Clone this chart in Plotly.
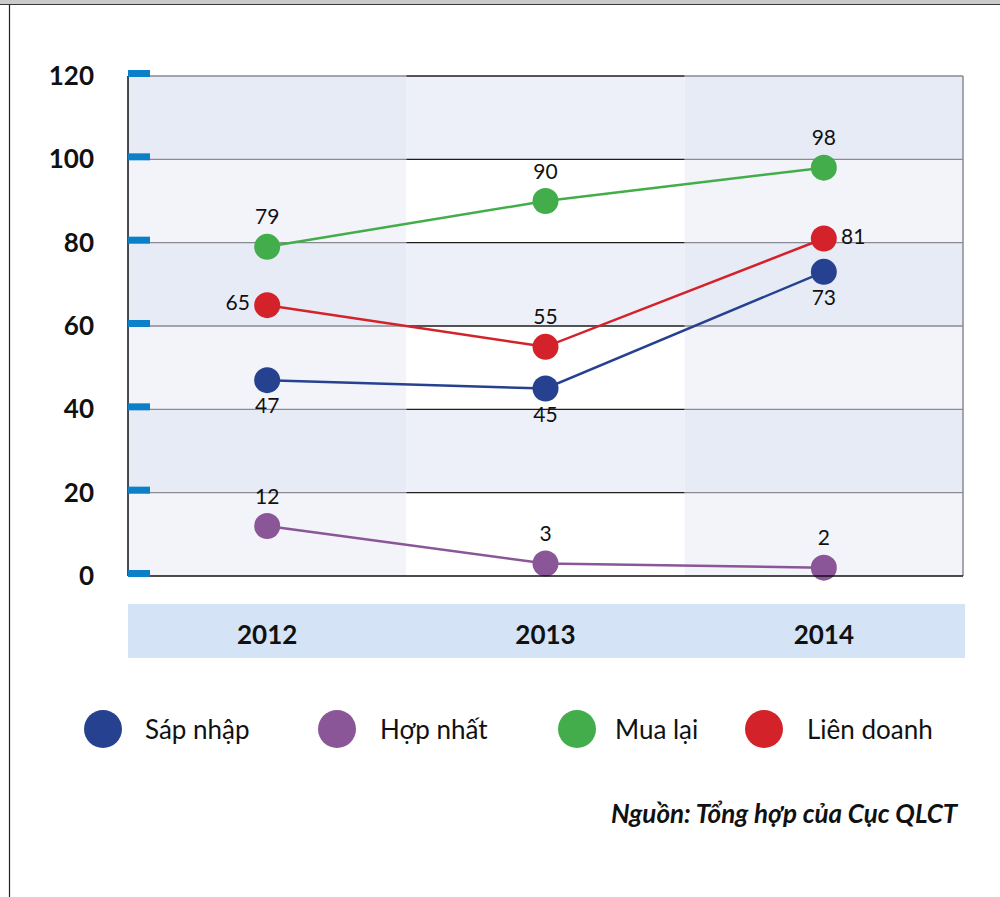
import plotly.graph_objects as go

# Data
years = ["2012", "2013", "2014"]
sap_nhap = [47, 45, 73]
hop_nhat = [12, 3, 2]
mua_lai = [79, 90, 98]
lien_doanh = [65, 55, 81]
y_ticks = [0, 20, 40, 60, 80, 100, 120]
series_names = ["Sáp nhập", "Hợp nhất", "Mua lại", "Liên doanh"]
source_text = "Nguồn: Tổng hợp của Cục QLCT"

# Styles
W, H = 1000, 897
L, R, T, B = 128, 37, 76, 321
PW, PH = W - L - R, H - T - B
FONT = "Lato"
Y_MAX = 120
colors = {"Sáp nhập": "#26418f", "Hợp nhất": "#8a5697", "Mua lại": "#42ad4a", "Liên doanh": "#d3222a"}
GRID_SIDE = "#8a8a92"
GRID_MID = "#1e1e1e"


def px_x(p):
    return (p - L) / PW


def px_y(p):
    return (H - B - p) / PH


fig = go.Figure()

series = [
    ("Sáp nhập", sap_nhap, ["bottom center"] * 3),
    ("Hợp nhất", hop_nhat, ["top center"] * 3),
    ("Mua lại", mua_lai, ["top center"] * 3),
    ("Liên doanh", lien_doanh, ["middle left", "top center", "middle right"]),
]
for name, vals, pos in series:
    fig.add_trace(go.Scatter(
        x=years, y=vals, name=name, mode="lines+markers+text",
        text=[str(v) for v in vals], textposition=pos,
        textfont=dict(family=FONT, size=21, color="#111"),
        line=dict(color=colors[name], width=2.5),
        marker=dict(color=colors[name], size=26),
        cliponaxis=False, showlegend=False,
    ))

shapes = []
# Alternating background cells
for ci in range(3):
    for ri in range(6):
        dark_row = (ri % 2 == 1)
        if ci == 1:
            fill = "#edf0f8" if dark_row else "#ffffff"
        else:
            fill = "#e7ebf6" if dark_row else "#f2f4fa"
        shapes.append(dict(type="rect", xref="x", yref="y", layer="below",
                           x0=ci - 0.5, x1=ci + 0.5,
                           y0=y_ticks[ri], y1=y_ticks[ri + 1],
                           fillcolor=fill, line=dict(width=0)))
# Horizontal grid lines, darker in the middle column
for v in y_ticks[1:-1]:
    for ci in range(3):
        shapes.append(dict(type="line", xref="x", yref="y", layer="below",
                           x0=ci - 0.5, x1=ci + 0.5, y0=v, y1=v,
                           line=dict(color=GRID_MID if ci == 1 else GRID_SIDE, width=1.3)))
# Top edge of the grid
for ci in range(3):
    shapes.append(dict(type="line", xref="x", yref="paper", layer="above",
                       x0=ci - 0.5, x1=ci + 0.5, y0=1, y1=1,
                       line=dict(color=GRID_MID if ci == 1 else GRID_SIDE, width=1.5)))
# Right border
shapes.append(dict(type="line", xref="paper", yref="paper", layer="above",
                   x0=1, x1=1, y0=0, y1=1, line=dict(color=GRID_SIDE, width=1.5)))
# Axis lines
shapes.append(dict(type="line", xref="paper", yref="paper", x0=0, x1=0, y0=0, y1=1,
                   line=dict(color="#111", width=1.5), layer="above"))
shapes.append(dict(type="line", xref="paper", yref="paper", x0=0, x1=1, y0=0, y1=0,
                   line=dict(color="#111", width=1.5), layer="above"))
# Blue tick bars on the value axis
for v in y_ticks:
    shapes.append(dict(type="rect", xref="paper", yref="paper", ysizemode="pixel",
                       yanchor=v / Y_MAX, y0=-1, y1=6, x0=0, x1=22 / PW,
                       fillcolor="#0b7fc7", line=dict(width=0), layer="above"))
# Category band
shapes.append(dict(type="rect", xref="paper", yref="paper", layer="below",
                   x0=0, x1=px_x(965), y0=px_y(658), y1=px_y(604),
                   fillcolor="#d4e3f5", line=dict(width=0)))
# Page frame
shapes.append(dict(type="rect", xref="paper", yref="paper",
                   x0=px_x(0), x1=px_x(W), y0=px_y(4), y1=px_y(0),
                   fillcolor="#cacaca", line=dict(width=0)))
shapes.append(dict(type="line", xref="paper", yref="paper",
                   x0=px_x(0), x1=px_x(W), y0=px_y(4.5), y1=px_y(4.5),
                   line=dict(color="#3a3a3a", width=1.2)))
shapes.append(dict(type="line", xref="paper", yref="paper",
                   x0=px_x(9.5), x1=px_x(9.5), y0=px_y(H), y1=px_y(4.5),
                   line=dict(color="#222", width=1.2)))

# Legend
legend_dot_x = [103, 337, 577, 764]
legend_text_x = [143, 378, 613, 805]
legend_y = 729
annotations = []
for name, dx, tx in zip(series_names, legend_dot_x, legend_text_x):
    shapes.append(dict(type="circle", xref="paper", yref="paper",
                       xsizemode="pixel", ysizemode="pixel",
                       xanchor=px_x(dx), yanchor=px_y(legend_y),
                       x0=-19, x1=19, y0=-19, y1=19,
                       fillcolor=colors[name], line=dict(width=0)))
    annotations.append(dict(text=name, xref="paper", yref="paper",
                            x=px_x(tx), y=px_y(legend_y), xanchor="left", yanchor="middle",
                            showarrow=False, font=dict(family=FONT, size=26, color="#111")))

annotations.append(dict(text=source_text, xref="paper", yref="paper",
                        x=px_x(961), y=px_y(813), xanchor="right", yanchor="middle",
                        showarrow=False,
                        font=dict(family=FONT, size=26, color="#111", weight="bold", style="italic")))

fig.update_layout(
    width=W, height=H, autosize=False,
    margin=dict(l=L, r=R, t=T, b=B, pad=0),
    paper_bgcolor="white", plot_bgcolor="white",
    shapes=shapes, annotations=annotations,
    xaxis=dict(type="category", range=[-0.5, 2.5], showgrid=False, zeroline=False,
               showline=False, ticks="", ticklabelstandoff=41,
               tickfont=dict(family=FONT, size=26, color="#111", weight="bold")),
    yaxis=dict(range=[0, Y_MAX], tickvals=y_ticks, showgrid=False, zeroline=False,
               showline=False, ticks="", ticklabelstandoff=33,
               tickfont=dict(family=FONT, size=26, color="#111", weight="bold")),
)

fig.write_html("out.html")
